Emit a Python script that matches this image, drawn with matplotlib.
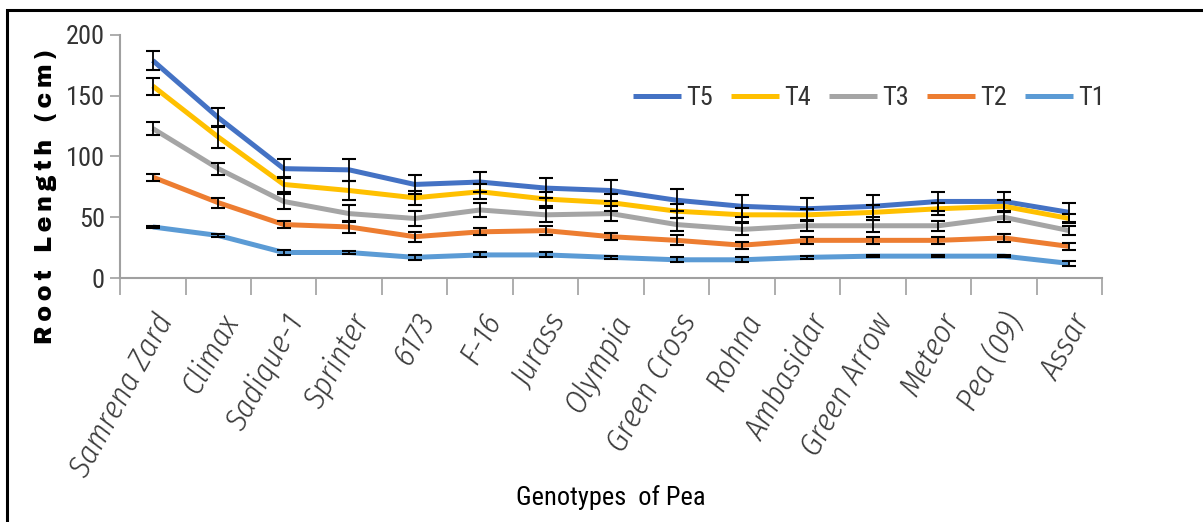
import matplotlib
matplotlib.use("Agg")
import matplotlib.pyplot as plt
from matplotlib import font_manager
from matplotlib.patches import Rectangle
import numpy as np

# genotypes and root length means (cm) with error bars
genotypes = ['Samrena Zard', 'Climax', 'Sadique-1', 'Sprinter', '6173', 'F-16',
             'Jurass', 'Olympia', 'Green Cross', 'Rohna', 'Ambasidar',
             'Green Arrow', 'Meteor', 'Pea (09)', 'Assar']

t5 = [179, 132, 90, 89, 77, 79, 74, 72, 64, 59, 57, 59, 63, 63, 54]
t4 = [158, 116, 77, 72, 66, 71, 65, 62, 55, 52, 52, 54, 57, 59, 49]
t3 = [123, 90, 63, 53, 49, 56, 52, 53, 44, 40, 43, 43, 43, 50, 39]
t2 = [83, 62, 44, 42, 34, 38, 39, 34, 31, 27, 31, 31, 31, 33, 26]
t1 = [42, 35, 21, 21, 17, 19, 19, 17, 15, 15, 17, 18, 18, 18, 12]

t5_err = [8, 8, 8, 9, 8, 8, 8, 9, 9, 9, 9, 9, 8, 8, 8]
t4_err = [7, 9, 6, 8, 6, 6, 6, 7, 6, 6, 5, 6, 5, 5, 4]
t3_err = [5, 5, 6, 7, 6, 6, 6, 6, 5, 5, 4, 5, 4, 4, 4]
t2_err = [3, 4, 3, 5, 4, 3, 4, 3, 4, 3, 3, 3, 3, 3, 3]
t1_err = [1, 1, 2, 1, 2, 2, 2, 1, 2, 2, 1, 1, 1, 1, 2]

series = [
    ('T5', t5, t5_err, '#4472C4'),
    ('T4', t4, t4_err, '#FFC000'),
    ('T3', t3, t3_err, '#A5A5A5'),
    ('T2', t2, t2_err, '#ED7D31'),
    ('T1', t1, t1_err, '#5B9BD5'),
]

fonts = font_manager.fontManager.ttflist


def pick(names, need_italic=False):
    for n in names:
        styles = {f.style for f in fonts if f.name == n}
        if styles and (not need_italic or 'italic' in styles):
            return n
    return 'DejaVu Sans'


narrow = pick(['Roboto Condensed', 'Archivo Narrow', 'PT Sans Narrow',
               'Fira Sans Condensed', 'Barlow Condensed', 'Abel'])
narrow_it = pick(['Fira Sans Condensed', 'Barlow Semi Condensed', 'Archivo Narrow',
                  'Roboto Condensed', 'Encode Sans Condensed', 'Asap Condensed',
                  'IBM Plex Sans Condensed', 'Open Sans Condensed'], need_italic=True)
heavy = pick(['Archivo Black', 'Arimo', 'Liberation Sans'])

fig = plt.figure(figsize=(12.03, 5.22), dpi=100)
ax = fig.add_axes([0.0998, 0.4674, 0.8163, 0.4656])

x = np.arange(len(genotypes))
for name, vals, err, color in series:
    ax.plot(x, vals, color=color, lw=3.6, label=name, zorder=2,
            solid_capstyle='butt')
    ax.errorbar(x, vals, yerr=err, fmt='none', ecolor='black',
                elinewidth=1.3, capsize=5, capthick=1.5, zorder=3)

ax.set_xlim(-0.5, len(genotypes) - 0.5)
ax.set_ylim(0, 200)
ax.set_yticks([0, 50, 100, 150, 200])

# category boundary ticks like a spreadsheet chart
ax.set_xticks(np.arange(-0.5, len(genotypes) + 0.5, 1), minor=False)
ax.set_xticklabels([])
ax.set_xticks(x, minor=True)
ax.set_xticklabels(genotypes, minor=True, rotation=61, ha='right',
                   rotation_mode='anchor', fontsize=23, style='italic',
                   fontweight=300, color='#3a3a3a',
                   family=[narrow_it, 'DejaVu Sans'])
ax.tick_params(axis='x', which='major', length=12, width=1.2, color='#A0A0A0',
               direction='out')
ax.tick_params(axis='x', which='minor', length=0, pad=22)
ax.tick_params(axis='y', length=7, width=1.2, color='#A0A0A0', pad=4,
               labelsize=19, labelcolor='#333333')
for lab in ax.get_yticklabels():
    lab.set_family([narrow, 'DejaVu Sans'])

for side in ['top', 'right']:
    ax.spines[side].set_visible(False)
for side in ['left', 'bottom']:
    ax.spines[side].set_color('#A0A0A0')
    ax.spines[side].set_linewidth(1.5)

ylab = '\u2009'.join('Root Length (cm)')
ax.set_ylabel(ylab, fontsize=17, family=[heavy, 'DejaVu Sans'],
              fontweight='bold', color='black')
ax.yaxis.set_label_coords(-0.064, 0.336)
ax.set_xlabel('Genotypes  of Pea', fontsize=19, family=[narrow, 'DejaVu Sans'],
              color='black')
ax.xaxis.set_label_coords(0.5, -0.85)

leg = ax.legend(loc='center left', bbox_to_anchor=(0.512, 0.74), ncol=5,
                frameon=False, fontsize=19, handlelength=1.8,
                handletextpad=0.2, columnspacing=0.7, borderaxespad=0)
for t in leg.get_texts():
    t.set_family([narrow, 'DejaVu Sans'])
    t.set_color('#333333')

# outer frame of the picture
fig.patches.append(Rectangle((0.006, -0.05), 1.05, 1.031, transform=fig.transFigure,
                             fill=False, edgecolor='black', lw=2.2))

fig.savefig('out.png', dpi=100)
